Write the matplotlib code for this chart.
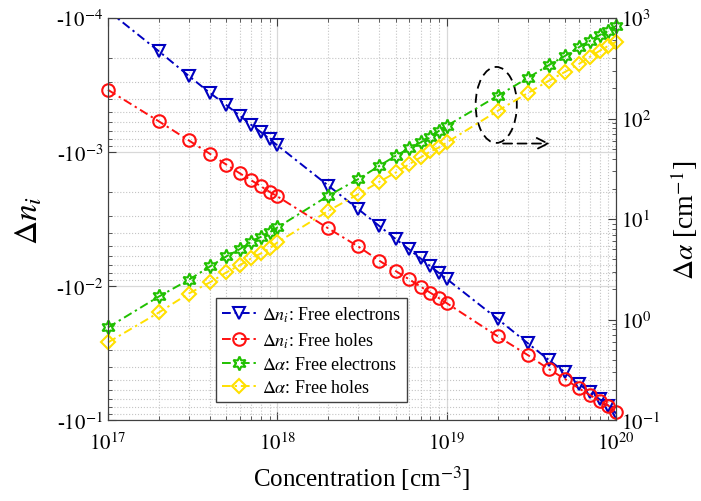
import numpy as np
from matplotlib import pyplot as plt
from matplotlib.patches import Ellipse
from matplotlib.ticker import LogLocator, FuncFormatter, NullFormatter

plt.rcParams['font.family'] = 'serif'
plt.rcParams['font.serif'] = ['Liberation Serif', 'DejaVu Serif']
plt.rcParams['mathtext.fontset'] = 'stix'

# concentration steps [cm^-3]
conc = [1e17, 2e17, 3e17, 4e17, 5e17, 6e17, 7e17, 8e17, 9e17,
        1e18, 2e18, 3e18, 4e18, 5e18, 6e18, 7e18, 8e18, 9e18,
        1e19, 2e19, 3e19, 4e19, 5e19, 6e19, 7e19, 8e19, 9e19,
        1e20]

# change of refractive index (negative)
dn_electrons = [-8.8e-5, -1.77e-4, -2.70e-4, -3.62e-4, -4.46e-4, -5.34e-4, -6.25e-4, -7.10e-4, -8.0e-4,
                -8.9e-4, -1.78e-3, -2.66e-3, -3.56e-3, -4.46e-3, -5.32e-3, -6.21e-3, -7.10e-3, -7.98e-3,
                -8.84e-3, -1.76e-2, -2.66e-2, -3.55e-2, -4.40e-2, -5.35e-2, -6.2e-2, -7.0e-2, -7.8e-2,
                -8.9e-2]
dn_holes = [-3.43e-4, -5.9e-4, -8.18e-4, -1.03e-3, -1.24e-3, -1.44e-3, -1.62e-3, -1.80e-3, -1.98e-3,
            -2.14e-3, -3.71e-3, -5.06e-3, -6.46e-3, -7.72e-3, -8.9e-3, -1.007e-2, -1.12e-2, -1.23e-2,
            -1.34e-2, -2.37e-2, -3.26e-2, -4.16e-2, -4.94e-2, -5.77e-2, -6.5e-2, -7.18e-2, -7.8e-2,
            -8.67e-2]

# change of absorption [cm^-1]
da_electrons = [0.836, 1.70, 2.49, 3.38, 4.26, 5.03, 5.94, 6.67, 7.37,
                8.26, 17.1, 25.0, 33.9, 42.7, 50.5, 57.9, 65.0, 75.7,
                84.7, 168.6, 253, 340, 421, 511, 594, 678, 748,
                838]
da_holes = [0.593, 1.18, 1.82, 2.35, 2.95, 3.48, 4.06, 4.56, 5.11,
            5.86, 12.1, 17.7, 23.5, 29.1, 35.2, 41.1, 47.1, 51.6,
            57.9, 119.6, 179, 238, 292, 348, 412, 473, 530,
            581]

blue = '#0000C0'
red = '#FF1010'
green = '#20C000'
yellow = '#FFE000'

fig = plt.figure(figsize=(7.01, 5.02), dpi=100)
ax = fig.add_axes([0.154, 0.161, 0.725, 0.801])

lw = 1.4
mew = 1.5
dashdot = (0, (4.5, 2, 1.2, 2))
l1, = ax.plot(conc, np.abs(dn_electrons), color=blue, lw=lw, ls=dashdot, marker='v', ms=9,
              mfc='none', mew=mew, label=r'$\Delta n_i$: Free electrons')
l2, = ax.plot(conc, np.abs(dn_holes), color=red, lw=lw, ls=dashdot, marker='o', ms=9,
              mfc='none', mew=mew, label=r'$\Delta n_i$: Free holes', clip_on=False)

ax.set_xscale('log')
ax.set_yscale('log')
ax.set_xlim(1e17, 1e20)
ax.set_ylim(1e-1, 1e-4)
ax.yaxis.set_major_locator(LogLocator(base=10, numticks=10))
ax.yaxis.set_major_formatter(FuncFormatter(lambda v, p: '-$10^{%d}$' % round(np.log10(v))))
ax.yaxis.set_minor_formatter(NullFormatter())
ax.xaxis.set_major_formatter(FuncFormatter(lambda v, p: '$10^{%d}$' % round(np.log10(v))))
ax.xaxis.set_minor_formatter(NullFormatter())
ax.grid(True, which='major', color='#d8d8d8', lw=0.9, ls='-')
ax.grid(True, which='minor', color='#c4c4c4', lw=0.8, ls=':')
ax.tick_params(which='both', direction='in', top=True, right=False, labelsize=15, colors='#404040',
               labelcolor='black')
ax.tick_params(which='major', length=6)
ax.tick_params(which='minor', length=3)
ax.tick_params(axis='x', pad=9)
for s in ax.spines.values():
    s.set_color('#404040')
ax.set_xlabel('Concentration [cm$^{-3}$]', fontsize=18, labelpad=6)
ax.set_ylabel(r'$\Delta n_i$', fontsize=24, labelpad=8)

# right axis for absorption
ax2 = ax.twinx()
l3, = ax2.plot(conc, da_electrons, color=green, lw=lw, ls=dashdot, marker=(6, 1, 0), ms=10,
               mfc='none', mew=mew, label=r'$\Delta\alpha$: Free electrons', clip_on=False)
l4, = ax2.plot(conc, da_holes, color=yellow, lw=lw, ls=dashdot, marker='D', ms=7.5,
               mfc='none', mew=mew, label=r'$\Delta\alpha$: Free holes', clip_on=False)
ax2.set_yscale('log')
ax2.set_ylim(1e-1, 1e3)
ax2.yaxis.set_major_formatter(FuncFormatter(lambda v, p: '$10^{%d}$' % round(np.log10(v))))
ax2.yaxis.set_minor_formatter(NullFormatter())
ax2.tick_params(which='both', direction='in', labelsize=15, colors='#404040', labelcolor='black')
ax2.tick_params(which='major', length=6)
ax2.tick_params(which='minor', length=3)
ax2.set_ylabel(r'$\Delta\alpha$ [cm$^{-1}$]', fontsize=20, labelpad=6)
for s in ax2.spines.values():
    s.set_color('#404040')

# dashed ellipse and arrow pointing to the right axis
ax2.add_patch(Ellipse((0.764, 0.784), 0.081, 0.189, transform=ax2.transAxes, fill=False,
                      ls=(0, (5, 3)), lw=1.3, color='black'))
ax2.annotate('', xy=(0.875, 0.688), xytext=(0.772, 0.688), xycoords='axes fraction',
             arrowprops=dict(arrowstyle='->', ls=(0, (5, 3)), lw=1.3, color='black',
                             mutation_scale=20))

leg = ax2.legend(handles=[l1, l2, l3, l4], loc='lower left', bbox_to_anchor=(0.212, 0.044),
                 borderaxespad=0, fontsize=13, handlelength=1.9, handletextpad=0.3,
                 labelspacing=0.35, fancybox=False, framealpha=1, edgecolor='#404040',
                 borderpad=0.35)
leg.get_frame().set_linewidth(1.0)

plt.savefig('out.png', dpi=100)
plt.close()
